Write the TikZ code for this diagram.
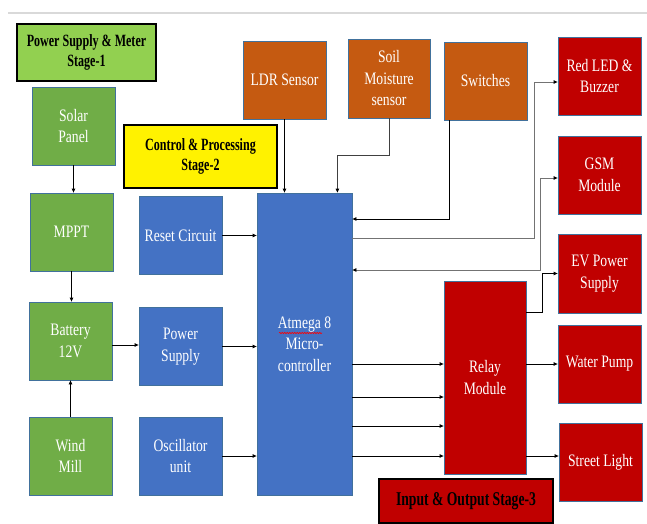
\documentclass[tikz,border=0pt]{standalone}
\usepackage{fontspec}
\usetikzlibrary{arrows.meta,decorations.pathmorphing}
\newfontfamily\boxfont[FakeStretch=0.78]{Liberation Serif}
\newfontfamily\titlefont[FakeStretch=0.7]{Liberation Serif}

\definecolor{solgreen}{HTML}{70AD47}
\definecolor{stagegreen}{HTML}{92D050}
\definecolor{ctrlblue}{HTML}{4472C4}
\definecolor{sensorange}{HTML}{C55A11}
\definecolor{outred}{HTML}{C00000}
\definecolor{boxedge}{HTML}{41719C}

\tikzset{
  blk/.style={draw=boxedge, line width=0.8pt, inner sep=0pt, align=center,
    text=white, minimum width=83pt, minimum height=78pt,
    font=\boxfont\fontsize{17.5}{21.5}\selectfont},
  stagebox/.style={draw=black, line width=1.1pt, inner sep=0pt, align=center,
    text=black, font=\titlefont\bfseries\fontsize{17.2}{20}\selectfont},
  arr/.style={line width=0.8pt, -{Triangle[length=4pt,width=3.5pt,color=black]}},
  grayarr/.style={arr, draw=black!55},
}

\begin{document}
\begin{tikzpicture}[x=1pt, y=-1pt]
  \useasboundingbox (0,0) rectangle (647,524);
  \draw[black!15, line width=2pt] (8,13) -- (647,13);

  % stage 1 : power supply
  \node[stagebox, fill=stagegreen, minimum width=139pt, minimum height=57pt]
    (stageone) at (86.5,52.5) {Power Supply \& Meter\\Stage-1};
  \node[blk, fill=solgreen] (solar) at (73.5,126) {Solar\\Panel};
  \node[blk, fill=solgreen] (mppt) at (71.5,232) {MPPT};
  \node[blk, fill=solgreen] (battery) at (70.5,341) {Battery\\12V};
  \node[blk, fill=solgreen] (wind) at (70.5,456) {Wind\\Mill};

  % stage 2 : control
  \node[stagebox, fill=yellow, minimum width=153pt, minimum height=63pt]
    (stagetwo) at (200.5,156.5) {Control \& Processing\\Stage-2};
  \node[blk, fill=ctrlblue] (reset) at (180.5,235.5) {Reset Circuit};
  \node[blk, fill=ctrlblue] (psupply) at (180.5,346.5) {Power\\Supply};
  \node[blk, fill=ctrlblue] (osc) at (180.5,456) {Oscillator\\unit};
  \node[blk, fill=ctrlblue, minimum width=95pt, minimum height=302pt]
    (atmega) at (304.5,344) {Atmega 8\\Micro-\\controller};
  \draw[red, line width=0.6pt, decorate,
    decoration={snake, amplitude=0.7pt, segment length=2.5pt}]
    (279,333) -- (322,333);

  % sensors
  \node[blk, fill=sensorange] (ldr) at (284.5,80) {LDR Sensor};
  \node[blk, fill=sensorange, minimum width=82pt, minimum height=79pt]
    (soil) at (389,78.5) {Soil\\Moisture\\sensor};
  \node[blk, fill=sensorange] (switches) at (485.5,81) {Switches};

  % stage 3 : outputs
  \node[blk, fill=outred] (redled) at (599.5,76) {Red LED \&\\Buzzer};
  \node[blk, fill=outred] (gsm) at (599.5,175) {GSM\\Module};
  \node[blk, fill=outred, minimum height=79pt] (ev) at (599.5,273.5) {EV Power\\Supply};
  \node[blk, fill=outred] (pump) at (599.5,364) {Water Pump};
  \node[blk, fill=outred] (street) at (600.5,462) {Street Light};
  \node[blk, fill=outred, minimum width=82pt, minimum height=193pt]
    (relay) at (485,377.5) {Relay\\Module};
  \node[stagebox, fill=outred, minimum width=174pt, minimum height=44pt,
    font=\titlefont\bfseries\fontsize{19.5}{22}\selectfont]
    (stagethree) at (466,501) {Input \& Output Stage-3};

  % power chain
  \draw[arr] (solar.south) -- (solar.south |- mppt.north);
  \draw[arr] (mppt.south) -- (mppt.south |- battery.north);
  \draw[arr] (wind.north) -- (wind.north |- battery.south);
  \draw[arr] ([yshift=-4pt]battery.east) -- ([yshift=-4pt]battery.east -| psupply.west);

  % into the controller
  \draw[arr] (reset.east) -- (reset.east -| atmega.west);
  \draw[arr] (psupply.east) -- (psupply.east -| atmega.west);
  \draw[arr] (osc.east) -- (osc.east -| atmega.west);
  \draw[arr] (ldr.south) -- (ldr.south |- atmega.north);
  \draw[grayarr, draw=black!75] (soil.south) -- ++(0,37) -| ([xshift=-15pt]atmega.north east);
  \draw[arr] ([xshift=6pt]switches.south west) |- ([yshift=125pt]atmega.east);

  % controller to outputs
  \draw[grayarr] ([yshift=106pt]atmega.east) -- ++(182,0) |- ([yshift=-6pt]redled.west);
  \draw[grayarr, {Triangle[length=4pt,width=3.5pt,color=black]}-{Triangle[length=4pt,width=3.5pt,color=black]}]
    ([yshift=74pt]atmega.east) -- ++(188,0) |- ([yshift=-3pt]gsm.west);
  \foreach \dy in {20,53,82,112}
    \draw[arr] ([yshift=-\dy pt]atmega.east) -- ([yshift=-\dy pt]atmega.east -| relay.west);
  \draw[arr] ([yshift=65.5pt]relay.east) -- ++(16,0) |- (ev.west);
  \draw[arr] ([yshift=13.5pt]relay.east) -- ([yshift=13.5pt]relay.east -| pump.west);
  \draw[arr] ([yshift=-78.5pt]relay.east) -- ([yshift=-78.5pt]relay.east -| street.west);
\end{tikzpicture}
\end{document}
